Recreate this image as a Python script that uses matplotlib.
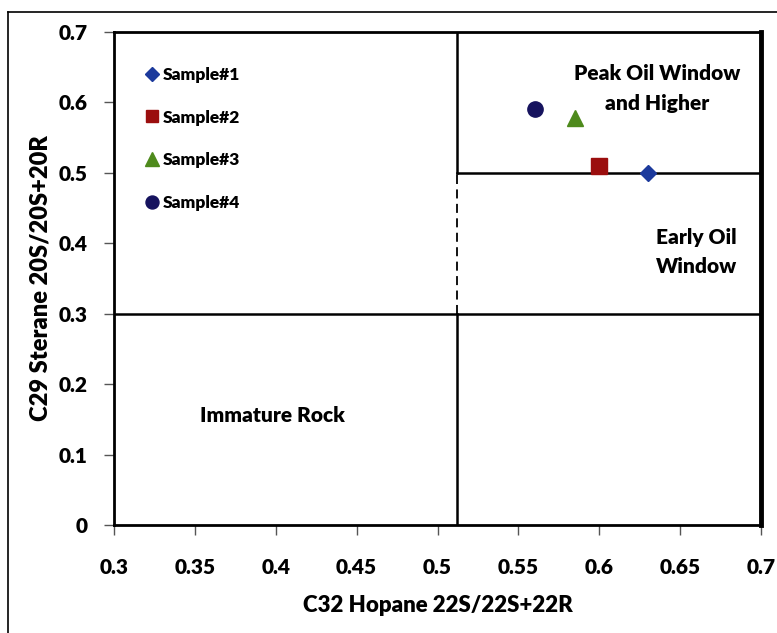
import numpy as np
import matplotlib.pyplot as plt
from matplotlib.lines import Line2D

plt.rcParams['font.family'] = ['Lato', 'DejaVu Sans']
plt.rcParams['font.weight'] = 'heavy'

# C32 hopane vs C29 sterane isomerisation ratios
samples = ['Sample#1', 'Sample#2', 'Sample#3', 'Sample#4']
hopane = [0.63, 0.60, 0.585, 0.56]
sterane = [0.50, 0.51, 0.578, 0.59]
markers = ['D', 's', '^', 'o']
colors = ['#1c3a9c', '#9b0e0e', '#4e8a1c', '#16135e']
sizes = [8, 11, 12, 11]

xticks = [0.3, 0.35, 0.4, 0.45, 0.5, 0.55, 0.6, 0.65, 0.7]
yticks = [0, 0.1, 0.2, 0.3, 0.4, 0.5, 0.6, 0.7]

# maturity zone boundaries
x_split = 0.512
y_low = 0.3
y_peak = 0.5

fig = plt.figure(figsize=(7.77, 6.33), dpi=100)
ax = fig.add_axes([114 / 777, 1 - 525 / 633, 647 / 777, 493 / 633])

for xi, yi, m, c, s, lab in zip(hopane, sterane, markers, colors, sizes, samples):
    ax.plot(xi, yi, linestyle='none', marker=m, color=c, markersize=s, label=lab, zorder=5)

ax.plot([0.3, 0.7], [y_low, y_low], color='black', lw=1.8)
ax.plot([x_split, x_split], [0, y_low], color='black', lw=1.8)
ax.plot([x_split, x_split], [y_low, y_peak], color='black', lw=1.3, ls=(0, (5, 3)))
ax.plot([x_split, x_split], [y_peak, 0.7], color='black', lw=1.8)
ax.plot([x_split, 0.7], [y_peak, y_peak], color='black', lw=1.8)

ax.text(0.636, 0.62, 'Peak Oil Window\nand Higher', ha='center', va='center',
        fontsize=15, fontweight='heavy', linespacing=1.65)
ax.text(0.660, 0.388, 'Early Oil\nWindow', ha='center', va='center',
        fontsize=15, fontweight='heavy', linespacing=1.65)
ax.text(0.398, 0.155, 'Immature Rock', ha='center', va='center',
        fontsize=15, fontweight='heavy')

ax.set_xlim(0.3, 0.7)
ax.set_ylim(0, 0.7)
ax.set_xticks(xticks)
ax.set_yticks(yticks)
ax.set_xticklabels([f'{t:g}' for t in xticks])
ax.set_yticklabels([f'{t:g}' for t in yticks])
ax.tick_params(direction='out', length=7, width=1, color='#555555', labelsize=15)
for lab in ax.get_xticklabels() + ax.get_yticklabels():
    lab.set_fontweight('heavy')
ax.tick_params(axis='x', pad=17)
ax.tick_params(axis='y', pad=12)

for side in ['left', 'bottom', 'top']:
    ax.spines[side].set_linewidth(2)
ax.spines['right'].set_linewidth(3.5)

ax.set_xlabel('C32 Hopane 22S/22S+22R', fontsize=16, fontweight='heavy', labelpad=13)
ax.set_ylabel('C29 Sterane 20S/20S+20R', fontsize=17, fontweight='heavy', labelpad=5)

leg = ax.legend(loc='upper left', bbox_to_anchor=(0.043, 0.929), frameon=False,
                fontsize=12.5, handletextpad=0.0, labelspacing=1.53,
                handlelength=1.2, borderaxespad=0, borderpad=0, markerscale=0.85)
for t in leg.get_texts():
    t.set_fontweight('heavy')

# outer border lines around the figure
fig.add_artist(Line2D([8 / 777, 8 / 777], [0, 1 - 12 / 633], color='black', lw=1.2,
                      transform=fig.transFigure))
fig.add_artist(Line2D([8 / 777, 1], [1 - 12 / 633, 1 - 12 / 633], color='black', lw=1.2,
                      transform=fig.transFigure))

fig.savefig('out.png', dpi=100)
